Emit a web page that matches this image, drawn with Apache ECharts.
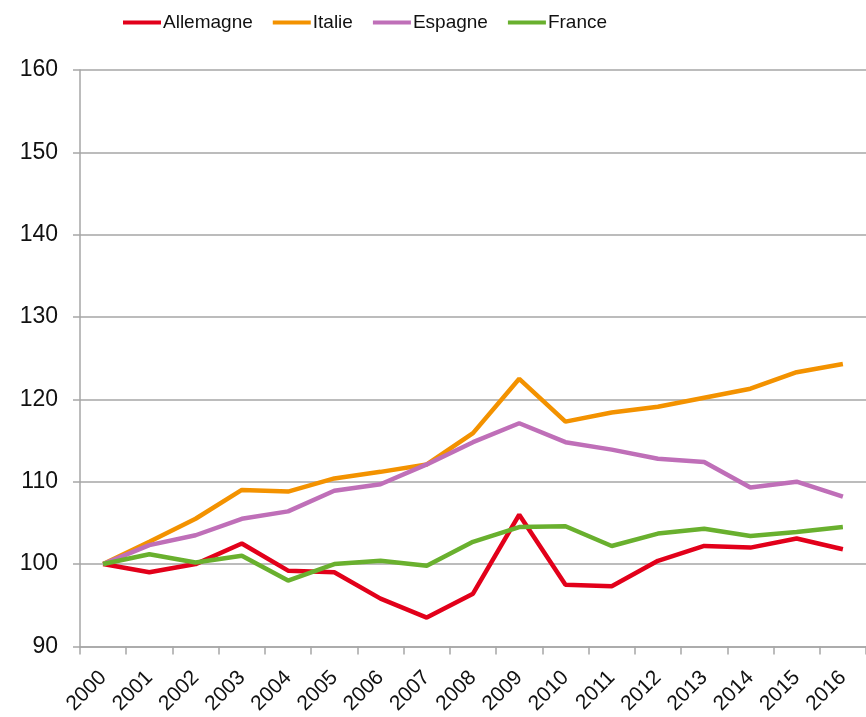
<!DOCTYPE html>
<html>
<head>
<meta charset="utf-8">
<script src="https://cdn.jsdelivr.net/npm/echarts@6/dist/echarts.min.js"></script>
<style>
  html, body { margin: 0; padding: 0; background: #fff; }
  #chart { width: 866px; height: 717px; }
</style>
</head>
<body>
<div id="chart"></div>
<script>
// années
const years = ['2000', '2001', '2002', '2003', '2004', '2005', '2006', '2007', '2008',
  '2009', '2010', '2011', '2012', '2013', '2014', '2015', '2016']

// indices base 100 en 2000
const allemagne = [100, 99.0, 100.0, 102.5, 99.2, 99.0, 95.8, 93.5, 96.4, 106.0, 97.5, 97.3, 100.4, 102.2, 102.0, 103.1, 101.8]
const italie = [100, 102.7, 105.5, 109.0, 108.8, 110.4, 111.2, 112.1, 115.9, 122.5, 117.3, 118.4, 119.1, 120.2, 121.3, 123.3, 124.3]
const espagne = [100, 102.3, 103.5, 105.5, 106.4, 108.9, 109.7, 112.1, 114.8, 117.1, 114.8, 113.9, 112.8, 112.4, 109.3, 110.0, 108.2]
const france = [100, 101.2, 100.2, 101.0, 98.0, 100.0, 100.4, 99.8, 102.7, 104.5, 104.6, 102.2, 103.7, 104.3, 103.4, 103.9, 104.5]

const names = ['Allemagne', 'Italie', 'Espagne', 'France']
const colors = ['#e2001a', '#f39200', '#bf6fb8', '#69b02e']
const values = [allemagne, italie, espagne, france]

const font = '"Liberation Sans", Arial, sans-serif'
const chart = echarts.init(document.getElementById('chart'))

const series = names.map((name, i) => ({
  name: name,
  type: 'line',
  data: values[i],
  showSymbol: false,
  symbol: 'none',
  lineStyle: { width: 4.5, color: colors[i] },
  itemStyle: { color: colors[i] },
  animation: false
}))

chart.setOption({
  animation: false,
  grid: {
    left: 80,
    right: -6,
    top: 70,
    bottom: 70
  },
  legend: {
    data: names,
    left: 118,
    top: 8,
    icon: 'rect',
    itemWidth: 38,
    itemHeight: 4,
    itemGap: 20,
    textStyle: {
      fontFamily: font,
      fontSize: 19,
      color: '#111',
      padding: [0, 0, 0, -3]
    }
  },
  xAxis: {
    type: 'category',
    data: years,
    boundaryGap: true,
    axisLine: { lineStyle: { color: '#a6a6a6', width: 1.5 } },
    axisTick: { show: true, length: 8, lineStyle: { color: '#a6a6a6', width: 1.5 } },
    axisLabel: {
      rotate: 45,
      interval: 0,
      margin: 28,
      fontFamily: font,
      fontSize: 21,
      color: '#111'
    }
  },
  yAxis: {
    type: 'value',
    min: 90,
    max: 160,
    interval: 10,
    axisLine: { show: true, lineStyle: { color: '#a6a6a6', width: 1.5 } },
    axisTick: { show: true, length: 7, lineStyle: { color: '#a6a6a6', width: 1.5 } },
    splitLine: { lineStyle: { color: '#a6a6a6', width: 1.5 } },
    axisLabel: {
      margin: 22,
      fontFamily: font,
      fontSize: 23,
      color: '#111'
    }
  },
  series: series
})
</script>
</body>
</html>
